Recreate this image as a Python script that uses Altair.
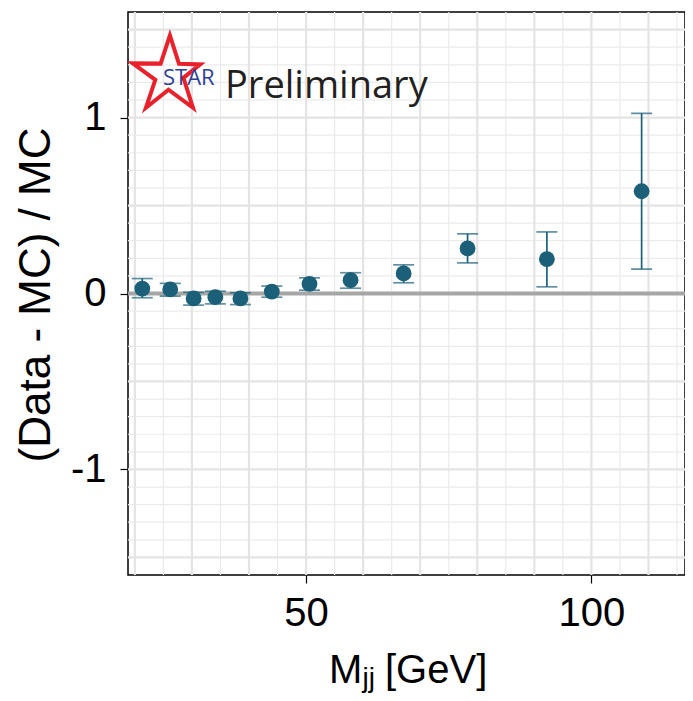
import altair as alt
import pandas as pd

# ---- data ----
mjj = [21.3, 26.2, 30.3, 34.1, 38.5, 44.0, 50.6, 57.8, 67.1, 78.3, 92.2, 108.8]
ratio = [0.028, 0.023, -0.028, -0.021, -0.028, 0.011, 0.055, 0.076, 0.114, 0.256, 0.195, 0.581]
err_hi = [0.085, 0.057, 0.007, 0.013, 0.004, 0.042, 0.089, 0.118, 0.163, 0.339, 0.350, 1.024]
err_lo = [-0.024, -0.015, -0.066, -0.059, -0.063, -0.021, 0.019, 0.030, 0.061, 0.174, 0.038, 0.138]

x_ticks = [50, 100]
y_ticks = [-1, 0, 1]
x_grid_major = [20, 30, 40, 50, 60, 70, 80, 90, 100, 110]
x_grid_minor = [25, 35, 45, 55, 65, 75, 85, 95, 105, 115]
y_grid_major = [-1.5, -1.0, -0.5, 0.0, 0.5, 1.0, 1.5]
y_grid_minor = [-1.4, -1.3, -1.2, -1.1, -0.9, -0.8, -0.7, -0.6, -0.4, -0.3, -0.2, -0.1,
                0.1, 0.2, 0.3, 0.4, 0.6, 0.7, 0.8, 0.9, 1.1, 1.2, 1.3, 1.4]
ref_line = [0]

df = pd.DataFrame({"m": mjj, "r": ratio, "hi": err_hi, "lo": err_lo})

W, H = 557, 563
xs = alt.Scale(domain=[18.8, 116.4], nice=False, zero=False)
ys = alt.Scale(domain=[-1.6, 1.6], nice=False, zero=False)
COL = "#1b6078"
GRID = "#e4e4e4"

xax = alt.Axis(values=x_ticks, title=None, grid=False, domain=False,
               tickSize=8, tickColor="black", tickWidth=1.2,
               labelFontSize=40, labelFont="Liberation Sans", labelColor="black",
               labelPadding=10, labelExpr="'' + datum.value")
yax = alt.Axis(values=y_ticks, title=None, grid=False, domain=False,
               tickSize=8, tickColor="black", tickWidth=1.2,
               labelFontSize=40, labelFont="Liberation Sans", labelColor="black",
               labelPadding=14, labelExpr="'' + datum.value")


def X(f):
    return alt.X(f, scale=xs, axis=xax)


def Y(f):
    return alt.Y(f, scale=ys, axis=yax)


def xgrid(vals, w, col):
    return alt.Chart(pd.DataFrame({"v": vals})).mark_rule(color=col, strokeWidth=w).encode(
        x=X("v:Q"))


def ygrid(vals, w, col):
    return alt.Chart(pd.DataFrame({"v": vals})).mark_rule(color=col, strokeWidth=w).encode(
        y=Y("v:Q"))


g1 = xgrid(x_grid_minor, 1.2, "#ebebeb")
g2 = ygrid(y_grid_minor, 1.2, "#ebebeb")
g3 = xgrid(x_grid_major, 2.2, GRID)
g4 = ygrid(y_grid_major, 2.2, GRID)
zero = ygrid(ref_line, 3.8, "#a6a6a6")

base = alt.Chart(df)
points = base.mark_circle(size=250, color=COL, opacity=1).encode(x=X("m:Q"), y=Y("r:Q"))
bars = base.mark_rule(color=COL, strokeWidth=1.7).encode(x=X("m:Q"), y=Y("lo:Q"), y2="hi:Q")
cap_hi = base.mark_tick(color=COL, orient="horizontal", size=21, thickness=1.7).encode(
    x=X("m:Q"), y=Y("hi:Q"))
cap_lo = base.mark_tick(color=COL, orient="horizontal", size=21, thickness=1.7).encode(
    x=X("m:Q"), y=Y("lo:Q"))

one = pd.DataFrame({"a": [0]})


def label(text, x, y, **kw):
    return alt.Chart(one).mark_text(text=text, **kw).encode(x=alt.value(x), y=alt.value(y))


star_path = ("M0.093,-0.991L0.342,-0.215L0.923,-0.198L0.464,0.169L0.726,0.99L0.055,0.496"
             "L-0.564,0.99L-0.307,0.225L-0.924,-0.226L-0.161,-0.22Z")
star = alt.Chart(one).mark_point(shape=star_path, size=73 * 73, filled=False,
                                 stroke="#e8212b", strokeWidth=4, opacity=1,
                                 strokeJoin="miter").encode(
    x=alt.value(38.5), y=alt.value(59.65))
star_txt = label("STAR", 35, 73, font="Open Sans", fontSize=22, color="#2f3f98", align="left",
                 baseline="alphabetic")
prelim = label("Preliminary", 97, 86, font="Open Sans", fontSize=38, color="#231f20",
               align="left", baseline="alphabetic")

ytitle = label("(Data - MC) / MC", -91, 283, font="Liberation Sans", fontSize=44,
               color="black", angle=270, align="center", baseline="middle")
xt1 = label("M", 201, 671, font="Liberation Sans", fontSize=40, color="black", align="left",
            baseline="alphabetic")
xt2 = label("jj", 234.5, 675, font="Liberation Sans", fontSize=28, color="black", align="left",
            baseline="alphabetic")
xt3 = label("[GeV]", 257, 671, font="Liberation Sans", fontSize=40, color="black", align="left",
            baseline="alphabetic")

chart = alt.layer(
    g1, g2, g3, g4, zero, points, bars, cap_hi, cap_lo,
    star, star_txt, prelim, ytitle, xt1, xt2, xt3
).properties(
    width=W, height=H,
    autosize=alt.AutoSizeParams(type="none"),
    padding={"left": 120, "top": 4, "right": 0, "bottom": 118},
).configure_view(stroke="black", strokeWidth=1.5)

chart.save("out.html", embed_options={"renderer": "svg", "actions": False})
